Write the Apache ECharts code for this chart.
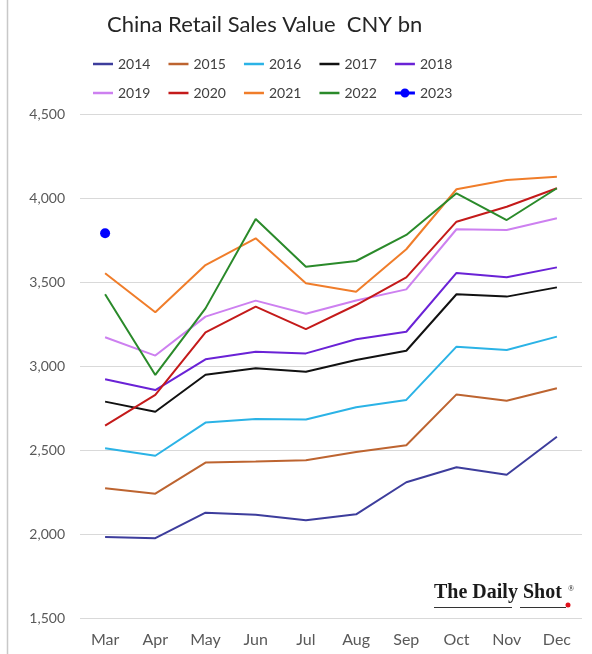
<!DOCTYPE html>
<html>
<head>
<meta charset="utf-8">
<script src="https://cdn.jsdelivr.net/npm/echarts@6/dist/echarts.min.js"></script>
<style>
html,body{margin:0;padding:0;background:#fff;}
#chart{width:592px;height:654px;}
</style>
</head>
<body>
<div id="chart"></div>
<script>
const months = ['Mar','Apr','May','Jun','Jul','Aug','Sep','Oct','Nov','Dec'];
const yTicks = [1500, 2000, 2500, 3000, 3500, 4000, 4500];
const years = ['2014','2015','2016','2017','2018','2019','2020','2021','2022','2023'];
const s2014 = [1982, 1975, 2127, 2115, 2082, 2117, 2308, 2397, 2353, 2579];
const s2015 = [2272, 2240, 2425, 2431, 2439, 2488, 2528, 2831, 2793, 2867];
const s2016 = [2510, 2466, 2663, 2685, 2681, 2754, 2798, 3115, 3095, 3175];
const s2017 = [2788, 2728, 2948, 2986, 2966, 3036, 3091, 3427, 3413, 3468];
const s2018 = [2921, 2857, 3040, 3085, 3075, 3159, 3204, 3554, 3528, 3587];
const s2019 = [3171, 3062, 3294, 3389, 3311, 3390, 3456, 3814, 3810, 3879];
const s2020 = [2645, 2828, 3200, 3353, 3220, 3363, 3528, 3859, 3948, 4058];
const s2021 = [3552, 3320, 3601, 3760, 3492, 3442, 3695, 4052, 4107, 4127];
const s2022 = [3427, 2947, 3343, 3875, 3591, 3625, 3780, 4028, 3869, 4058];
const s2023 = [3790];
const seriesData = [s2014, s2015, s2016, s2017, s2018, s2019, s2020, s2021, s2022, s2023];
const colors = ['#3d3d9c','#bd6430','#2bb3e6','#111111','#6a22d6','#cd80f0','#c41a1a','#f07d2a','#2a8a2a','#0000ff'];

const FONT = 'Lato';
const LINE_ICON = 'path://M0,0 L20,0 L20,2.5 L0,2.5 Z';
const DOT_ICON = 'path://M0,3.5 L20,3.5 L20,6.5 L0,6.5 Z M14.5,5 A4.5,4.5 0 1,1 5.5,5 A4.5,4.5 0 1,1 14.5,5 Z';

const series = years.map((y, i) => {
  const isDot = (y === '2023');
  return {
    name: y,
    type: 'line',
    data: seriesData[i],
    symbol: isDot ? 'circle' : 'none',
    symbolSize: isDot ? 10 : 0,
    showSymbol: isDot,
    lineStyle: { width: isDot ? 3 : 2, color: colors[i] },
    itemStyle: { color: colors[i] },
    emphasis: { disabled: true },
    silent: true,
    z: 2 + i
  };
});

const legendItems = years.map(y => ({ name: y, icon: y === '2023' ? DOT_ICON : LINE_ICON }));

const legendCommon = {
  itemWidth: 20,
  itemHeight: 10,
  itemGap: 18,
  symbolKeepAspect: true,
  textStyle: { fontFamily: FONT, fontSize: 14, color: '#404040' },
  selectedMode: false
};

const chart = echarts.init(document.getElementById('chart'), null, { renderer: 'canvas' });
chart.setOption({
  backgroundColor: '#ffffff',
  animation: false,
  color: colors,
  title: {
    text: 'China Retail Sales Value  CNY bn',
    left: 102,
    top: 9,
    textStyle: { fontFamily: FONT, fontSize: 22, fontWeight: 'normal', color: '#262626' }
  },
  legend: [
    Object.assign({}, legendCommon, { data: legendItems.slice(0,5), left: 88, top: 52 }),
    Object.assign({}, legendCommon, { data: legendItems.slice(5), left: 88, top: 81 })
  ],
  grid: { left: 80, right: 10, top: 114, bottom: 36, containLabel: false },
  xAxis: {
    type: 'category',
    data: months,
    boundaryGap: true,
    axisLine: { show: false },
    axisTick: { show: false },
    axisLabel: { fontFamily: FONT, fontSize: 16, color: '#595959', margin: 14 }
  },
  yAxis: {
    type: 'value',
    min: yTicks[0],
    max: yTicks[yTicks.length-1],
    interval: 500,
    axisLine: { show: false },
    axisTick: { show: false },
    splitLine: { lineStyle: { color: '#d9d9d9', width: 1 } },
    axisLabel: {
      fontFamily: FONT, fontSize: 14, color: '#595959', margin: 15,
      formatter: v => v.toLocaleString('en-US')
    }
  },
  series: series,
  graphic: [
    { type: 'line', shape: { x1: 7.5, y1: 0, x2: 7.5, y2: 654 }, style: { stroke: '#c8c8c8', lineWidth: 1.5 }, silent: true },
    { type: 'text', x: 434, y: 583, style: { text: 'The Daily Shot', font: 'bold 20px "Liberation Serif"', fill: '#1a1a1a' }, silent: true },
    { type: 'text', x: 568, y: 585, style: { text: '®', font: '8px "Liberation Serif"', fill: '#1a1a1a' }, silent: true },
    { type: 'line', shape: { x1: 434, y1: 607.5, x2: 512, y2: 607.5 }, style: { stroke: '#333', lineWidth: 1.2 }, silent: true },
    { type: 'line', shape: { x1: 520, y1: 607.5, x2: 566, y2: 607.5 }, style: { stroke: '#333', lineWidth: 1.2 }, silent: true },
    { type: 'circle', shape: { cx: 568, cy: 605, r: 2.5 }, style: { fill: '#e0101a' }, silent: true }
  ]
});
</script>
</body>
</html>
